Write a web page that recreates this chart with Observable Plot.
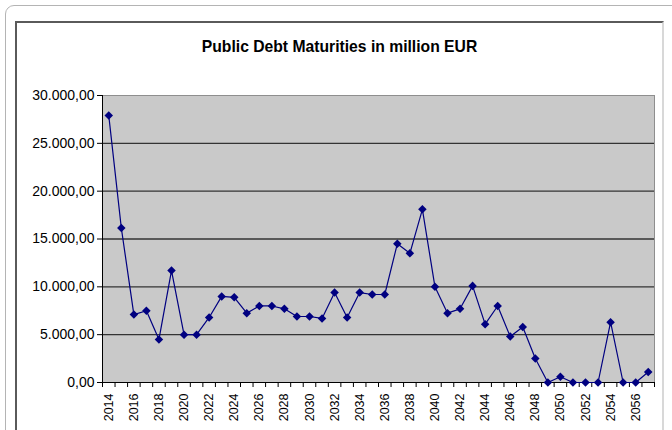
<!DOCTYPE html>
<html>
<head>
<meta charset="utf-8">
<script src="https://cdn.jsdelivr.net/npm/d3@7"></script>
<script src="https://cdn.jsdelivr.net/npm/@observablehq/plot@0.6"></script>
<style>
  html, body { margin: 0; padding: 0; background: #fff; }
  body { width: 672px; height: 430px; overflow: hidden; position: relative; font-family: "Liberation Sans", Arial, sans-serif; }
  #outer { position: absolute; left: 5px; top: 5px; width: 700px; height: 460px; border: 1px solid #b4b4b4; border-radius: 9px; }
  #inner { position: absolute; left: 15px; top: 21px; width: 645px; height: 440px; border-top: 2px solid #5a5a5a; border-left: 2px solid #5a5a5a; border-right: 2px solid #d8d8d8; background: #fff; }
  #title { position: absolute; top: 38px; left: 0; width: 679px; text-align: center; font-weight: bold; font-size: 15.7px; line-height: 18px; color: #000; }
  #chart { position: absolute; left: 0; top: 0; }
</style>
</head>
<body>
<div id="outer"></div>
<div id="inner"></div>
<div id="chart"></div>
<div id="title">Public Debt Maturities in million EUR</div>
<script>
const years = [2014, 2015, 2016, 2017, 2018, 2019, 2020, 2021, 2022, 2023, 2024,
  2025, 2026, 2027, 2028, 2029, 2030, 2031, 2032, 2033, 2034, 2035, 2036, 2037,
  2038, 2039, 2040, 2041, 2042, 2043, 2044, 2045, 2046, 2047, 2048, 2049, 2050,
  2051, 2052, 2053, 2054, 2055, 2056, 2057];
const maturities = [27900, 16150, 7100, 7500, 4500, 11700, 5000, 5000, 6800, 9000, 8900,
  7250, 8000, 8000, 7700, 6900, 6900, 6700, 9400, 6800, 9400, 9200, 9200, 14500,
  13500, 18100, 10000, 7250, 7700, 10100, 6100, 8000, 4800, 5800, 2500, 0, 600,
  0, 0, 0, 6300, 0, 0, 1100];
const yTicks = [0, 5000, 10000, 15000, 20000, 25000, 30000];
const xLabelYears = [2014, 2016, 2018, 2020, 2022, 2024, 2026, 2028, 2030, 2032, 2034,
  2036, 2038, 2040, 2042, 2044, 2046, 2048, 2050, 2052, 2054, 2056];

const data = years.map((year, i) => ({year, value: maturities[i]}));
const boundaries = years.map(y => y - 0.5).concat([years[years.length - 1] + 0.5]);
const xDomain = [boundaries[0], boundaries[boundaries.length - 1]];
const gridValues = yTicks.filter(v => v > 0 && v < 30000);

const locale = d3.formatLocale({decimal: ",", thousands: ".", grouping: [3], currency: ["", ""]});
const fmt = locale.format(",.2f");

const chart = Plot.plot({
  width: 672,
  height: 430,
  marginLeft: 102,
  marginRight: 18,
  marginTop: 95,
  marginBottom: 48,
  style: {fontFamily: "Liberation Sans, Arial, sans-serif", fontSize: "12px", color: "#000", background: "transparent"},
  x: {type: "linear", domain: xDomain, axis: null},
  y: {domain: [0, 30000], axis: null},
  marks: [
    Plot.frame({fill: "#c9c9c9", stroke: "#8e8e8e"}),
    Plot.ruleY(gridValues, {stroke: "#333", strokeWidth: 1.3}),
    Plot.ruleX([xDomain[0]], {stroke: "#000", strokeWidth: 1}),
    Plot.ruleY([0], {stroke: "#000", strokeWidth: 1}),
    Plot.axisY(yTicks, {tickSize: 5, tickPadding: 3, tickFormat: fmt, fontSize: 14, label: null, stroke: "#000"}),
    Plot.axisX(boundaries, {tickSize: 5, tickFormat: () => "", label: null, stroke: "#000"}),
    Plot.axisX(xLabelYears, {tickSize: 0, tickPadding: 11, tickRotate: -90, tickFormat: d => String(d), fontSize: 12.5, label: null}),
    Plot.line(data, {x: "year", y: "value", stroke: "#000080", strokeWidth: 1.2}),
    Plot.dot(data, {x: "year", y: "value", symbol: "square", rotate: 45, r: 3.4, fill: "#000080", stroke: "none"})
  ]
});
document.getElementById("chart").appendChild(chart);
</script>
</body>
</html>
